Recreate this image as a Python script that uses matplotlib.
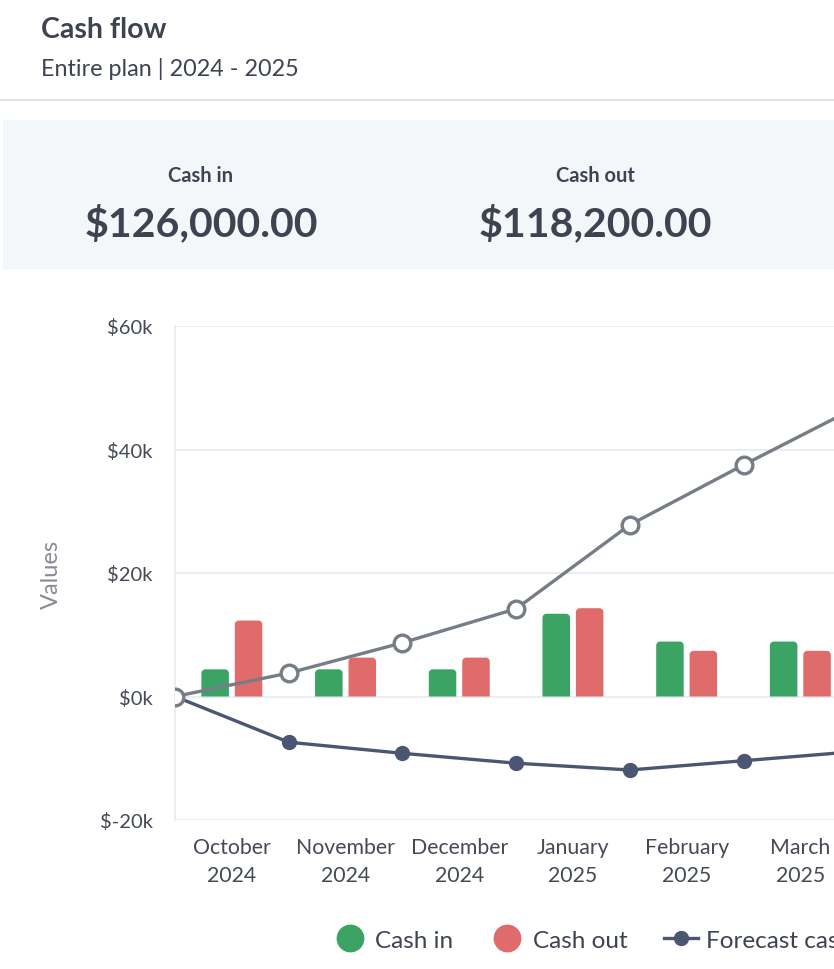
import matplotlib
matplotlib.use("Agg")
import matplotlib.pyplot as plt
from matplotlib.patches import Rectangle, Polygon
from matplotlib.lines import Line2D
import numpy as np

plt.rcParams['font.family'] = ['Lato', 'DejaVu Sans']

# ---- data ----
months = ["October\n2024", "November\n2024", "December\n2024", "January\n2025", "February\n2025", "March\n2025"]
cash_in = [4.4, 4.4, 4.4, 13.4, 8.9, 8.9]          # $k
cash_out = [12.3, 6.3, 6.3, 14.3, 7.4, 7.4]        # $k
upper_line = [0, 3.8, 8.7, 14.2, 27.8, 37.5, 46.9]     # $k, at month boundaries
forecast_cash = [0, -7.4, -9.2, -10.8, -11.9, -10.4, -8.9]  # $k
yticks = [-20, 0, 20, 40, 60]
ytick_labels = ["$-20k", "$0k", "$20k", "$40k", "$60k"]
kpi_labels = ["Cash in", "Cash out"]
kpi_values = ["$126,000.00", "$118,200.00"]
legend_labels = ["Cash in", "Cash out", "Forecast cash"]

GREEN = "#3ba364"
RED = "#e06b6b"
DARK = "#4a5672"
GRAY = "#777d86"
TEXT = "#3d4350"

W, H = 834, 970
fig = plt.figure(figsize=(W / 100, H / 100), dpi=100)
fig.patch.set_facecolor("white")

def fx(px):
    return px / W

def fy(py):
    return 1 - py / H

# header
fig.text(fx(41), fy(30), "Cash flow", fontsize=20.5, fontweight="bold", color=TEXT, va="center", ha="left")
fig.text(fx(41), fy(69), "Entire plan | 2024 - 2025", fontsize=16.8, color=TEXT, va="center", ha="left")
fig.add_artist(Line2D([0, 1], [fy(101), fy(101)], color="#e2e4e8", lw=1.5, transform=fig.transFigure))

# KPI panel
fig.add_artist(Rectangle((fx(3), fy(270)), 1, fy(121) - fy(270), transform=fig.transFigure,
                         facecolor="#f4f7f9", edgecolor="none"))
for cx, lab, val in zip([201, 595], kpi_labels, kpi_values):
    fig.text(fx(cx), fy(176), lab, fontsize=14.5, fontweight="bold", color=TEXT, ha="center", va="center")
    fig.text(fx(cx), fy(224), val, fontsize=29.5, fontweight="bold", color=TEXT, ha="center", va="center")

# chart axes (plot area extends past the right edge, as in the cropped reference)
unit = 113.7  # px per month
x0_px, top_px, bot_px = 175, 327, 821
xmax = 6.3
ax = fig.add_axes([fx(x0_px), fy(bot_px), fx(unit * xmax), (bot_px - top_px) / H])
ax.set_xlim(0, xmax)
ax.set_ylim(-20, 60)

centers = np.arange(len(months)) + 0.5
bw, off = 0.242, 0.147
px_per_k = (bot_px - top_px) / 80.0
rx = 4.0 / unit
ry = 4.0 / px_per_k

def rounded_bars(xs, hs, color):
    t = np.linspace(0, np.pi / 2, 12)
    for x, h in zip(xs, hs):
        left, right = x - bw / 2, x + bw / 2
        verts = [(left, 0), (right, 0)]
        verts += [(right - rx + rx * np.cos(a), h - ry + ry * np.sin(a)) for a in t]
        verts += [(left + rx - rx * np.cos(a), h - ry + ry * np.sin(a)) for a in t[::-1]]
        ax.add_patch(Polygon(verts, closed=True, facecolor=color, edgecolor="none", zorder=2))

rounded_bars(centers - off, cash_in, GREEN)
rounded_bars(centers + off, cash_out, RED)

bounds = np.arange(len(upper_line))
ax.plot(bounds, upper_line, color=GRAY, lw=2.4, marker="o", ms=12, mfc="white", mec=GRAY, mew=2.4, zorder=4)
ax.plot(bounds, forecast_cash, color=DARK, lw=2.4, marker="o", ms=10, mfc=DARK, mec=DARK, zorder=3)

ax.set_yticks(yticks)
ax.set_yticklabels(ytick_labels)
ax.set_xticks(centers)
ax.set_xticklabels(months, linespacing=1.55)
ax.tick_params(axis="both", length=0, colors="#444a55")
ax.tick_params(axis="y", pad=16, labelsize=14.5)
ax.tick_params(axis="x", pad=12, labelsize=15.3)
ax.grid(axis="y", color="#e8eaed", lw=1.2, zorder=0)
for s in ["top", "right", "bottom"]:
    ax.spines[s].set_visible(False)
ax.spines["left"].set_color("#e8eaed")
ax.spines["left"].set_linewidth(1.2)
ax.set_ylabel("Values", fontsize=17, color="#888c94")
ax.yaxis.set_label_coords(fx(62 - x0_px) / fx(unit * xmax), 0.5)

# legend
handles = [
    Line2D([], [], ls="none", marker="o", ms=19, mfc=GREEN, mec=GREEN),
    Line2D([], [], ls="none", marker="o", ms=19, mfc=RED, mec=RED),
    Line2D([], [], color=DARK, lw=2.4, marker="o", ms=10, mfc=DARK, mec=DARK),
]
fig.legend(handles, legend_labels, loc="center left", bbox_to_anchor=(fx(311), fy(941)), ncol=3,
           frameon=False, fontsize=17.5, handlelength=1.4, handletextpad=0.35, columnspacing=1.5,
           labelcolor=TEXT)

fig.savefig("out.png", dpi=100)
